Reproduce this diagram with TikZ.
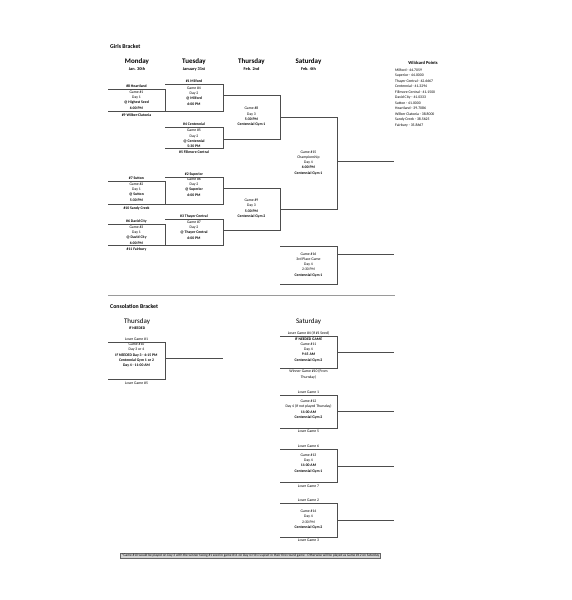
\documentclass[tikz,border=0pt]{standalone}
\usepackage{fontspec}
\setmainfont{Carlito}
\usepackage{xcolor}
\definecolor{lineclr}{HTML}{4d4d4d}
\definecolor{rulegray}{HTML}{9a9a9a}
\definecolor{notebg}{HTML}{d4d4d4}
\usepackage{tikz}
\usetikzlibrary{positioning}

\begin{document}
\begin{tikzpicture}[
  x=1pt, y=-1pt,
  section/.style={font=\fontsize{5.8}{6.5}\selectfont\bfseries, anchor=west, inner sep=0pt},
  dayhead/.style={font=\fontsize{7}{8}\selectfont\bfseries, inner sep=0pt},
  conshead/.style={font=\fontsize{7}{8}\selectfont, inner sep=0pt},
  datehead/.style={font=\fontsize{4.3}{5}\selectfont\bfseries, inner sep=0pt},
  team/.style={font=\fontsize{3.8}{4}\selectfont\bfseries, inner sep=0pt, anchor=base},
  loser/.style={font=\fontsize{3.8}{4}\selectfont, inner sep=0pt, anchor=base},
  info/.style={font=\fontsize{3.8}{5.3}\selectfont, align=center, inner sep=0pt},
  wild/.style={font=\fontsize{3.8}{5.5}\selectfont, align=left, inner sep=0pt, anchor=north west},
  note/.style={font=\fontsize{3.5}{4}\selectfont, draw=black!60, fill=notebg, inner xsep=1pt, inner ysep=0.6pt},
  bline/.style={draw=lineclr, line width=0.6pt},
]
\useasboundingbox (0,0) rectangle (571,600);
\fill[white] (0,0) rectangle (571,600);

% Headings
\node[section] (girls) at (110,46.5) {Girls Bracket};
\node[dayhead] (mon) at (137,61.5) {Monday};
\node[datehead, below=3pt of mon] (mondate) {Jan. 30th};
\node[dayhead] (tue) at (194,61.5) {Tuesday};
\node[datehead, below=3pt of tue] (tuedate) {January 31st};
\node[dayhead] (thu) at (251.5,61.5) {Thursday};
\node[datehead, below=3pt of thu] (thudate) {Feb. 2nd};
\node[dayhead] (sat) at (308.5,61.5) {Saturday};
\node[datehead, below=3pt of sat] (satdate) {Feb. 4th};

% Wildcard points
\node[font=\fontsize{4.5}{5}\selectfont\bfseries, inner sep=0pt] (wildtitle) at (423,63) {Wildcard Points};
\node[wild] (wildlist) at (395,68.5) {Milford - 44.7059\\Superior - 44.0000\\Thayer Central - 42.6667\\Centennial - 41.3294\\Fillmore Central - 41.1500\\David City - 41.0333\\Sutton - 41.0000\\Heartland - 39.7086\\Wilber Clatonia - 38.8000\\Sandy Creek - 38.5625\\Fairbury - 35.8667};

% Monday
\node[team] (s8) at (136.5,87.8) {\#8 Heartland};
\node[info] (g1) at (136.5,100) {Game \#1\\Day 1\\\textbf{@ Highest Seed}\\\textbf{6:00 PM}};
\node[team] (s9) at (136.5,116.2) {\#9 Wilber-Clatonia};
\node[team] (s7) at (136.5,179.8) {\#7 Sutton};
\node[info] (g2) at (136.5,192) {Game \#2\\Day 1\\\textbf{@ Sutton}\\\textbf{5:30 PM}};
\node[team] (s10) at (136.5,209.2) {\#10 Sandy Creek};
\node[team] (s6) at (136.5,222.8) {\#6 David City};
\node[info] (g3) at (136.5,235) {Game \#3\\Day 1\\\textbf{@ David City}\\\textbf{6:00 PM}};
\node[team] (s11) at (136.5,250.2) {\#11 Fairbury};

% Tuesday
\node[team] (s1) at (194,82.8) {\#1 Milford};
\node[info] (g4) at (194,96) {Game \#4\\Day 2\\\textbf{@ Milford}\\\textbf{6:00 PM}};
\node[team] (s4) at (194,125.8) {\#4 Centennial};
\node[info] (g5) at (194,138.5) {Game \#5\\Day 2\\\textbf{@ Centennial}\\\textbf{5:30 PM}};
\node[team] (s5) at (194,153.2) {\#5 Fillmore Central};
\node[team] (s2) at (194,175.6) {\#2 Superior};
\node[info] (g6) at (194,187) {Game \#6\\Day 2\\\textbf{@ Superior}\\\textbf{6:00 PM}};
\node[team] (s3) at (194,217.8) {\#3 Thayer Central};
\node[info] (g7) at (194,230) {Game \#7\\Day 2\\\textbf{@ Thayer Central}\\\textbf{6:00 PM}};

% Thursday / Saturday
\node[info] (g8) at (251.5,116.7) {Game \#8\\Day 3\\\textbf{5:30 PM}\\\textbf{Centennial Gym 1}};
\node[info] (g9) at (251.5,208.5) {Game \#9\\Day 3\\\textbf{5:30 PM}\\\textbf{Centennial Gym 2}};
\node[info] (final) at (308.5,162.7) {Game \#15\\Championship\\Day 4\\\textbf{6:00 PM}\\\textbf{Centennial Gym 1}};
\node[info] (third) at (308.5,264.7) {Game \#16\\3rd Place Game\\Day 4\\2:30 PM\\\textbf{Centennial Gym 1}};

% Girls bracket lines
\draw[bline] (108,89) -- (165,89) -- (165,111);
\draw[bline] (108,111) -- (223,111) -- (223,84) -- (165,84);
\draw[bline] (165,127) -- (223,127) -- (223,148) -- (165,148);
\draw[bline] (223,95) -- (280,95) -- (280,139) -- (223,139);
\draw[bline] (108,181) -- (165,181) -- (165,204);
\draw[bline] (108,204) -- (223,204) -- (223,177) -- (165,177);
\draw[bline] (108,224) -- (165,224) -- (165,245);
\draw[bline] (108,245) -- (223,245) -- (223,219) -- (165,219);
\draw[bline] (223,188) -- (280,188) -- (280,230) -- (223,230);
\draw[bline] (280,117) -- (337,117) -- (337,209) -- (280,209);
\draw[bline] (337,161) -- (394,161);
\draw[bline] (280,246) -- (337,246) -- (337,284) -- (280,284);
\draw[bline] (337,254) -- (394,254);

% Separator
\draw[rulegray, line width=0.6pt] (108,295) -- (395,295);

% Consolation headings
\node[section] (consol) at (110,306) {Consolation Bracket};
\node[conshead] (cthu) at (137,321.5) {Thursday};
\node[font=\fontsize{3.8}{4}\selectfont\bfseries, inner sep=0pt] (ifneeded) at (137,328.3) {IF NEEDED};
\node[conshead] (csat) at (308.5,321.5) {Saturday};

% Consolation Thursday
\node[loser] (l1) at (136.5,340.6) {Loser Game \#1};
\node[info] (g10) at (136.5,355.2) {Game \#10\\Day 3 or 4\\\textbf{IF NEEDED Day 3 - 4:15 PM}\\\textbf{Centennial Gym 1 or 2}\\\textbf{Day 4 - 11:00 AM}};
\node[loser] (l5) at (136.5,384) {Loser Game \#5};
\draw[bline] (108,342) -- (165,342) -- (165,379) -- (108,379);
\draw[bline] (165,358) -- (223,358);

% Consolation Saturday
\node[loser] (l4) at (308.5,334.6) {Loser Game \#4 (If \#1 Seed)};
\node[info] (g11) at (308.5,349.7) {\textbf{IF NEEDED GAME}\\Game \#11\\Day 4\\\textbf{9:15 AM}\\\textbf{Centennial Gym 2}};
\node[info] (w10) at (308.5,374.3) {Winner Game \#10 (From\\Thursday)};
\draw[bline] (280,336) -- (337,336) -- (337,368) -- (280,368);
\draw[bline] (337,352) -- (394,352);

\node[loser] (lg1) at (308.5,393.8) {Loser Game 1};
\node[info] (g12) at (308.5,409.5) {Game \#12\\Day 4 (If not played Thursday)\\\textbf{11:00 AM}\\\textbf{Centennial Gym 2}};
\node[loser] (lg5) at (308.5,432.8) {Loser Game 5};
\draw[bline] (280,395) -- (337,395) -- (337,428) -- (280,428);
\draw[bline] (337,411) -- (394,411);

\node[loser] (lg6) at (308.5,447.6) {Loser Game 6};
\node[info] (g13) at (308.5,463.2) {Game \#13\\Day 4\\\textbf{11:00 AM}\\\textbf{Centennial Gym 1}};
\node[loser] (lg7) at (308.5,487.2) {Loser Game 7};
\draw[bline] (280,449) -- (337,449) -- (337,482) -- (280,482);
\draw[bline] (337,466) -- (394,466);

\node[loser] (lg2) at (308.5,501.6) {Loser Game 2};
\node[info] (g14) at (308.5,519.5) {Game \#14\\Day 4\\2:30 PM\\\textbf{Centennial Gym 2}};
\node[loser] (lg3) at (308.5,541.6) {Loser Game 3};
\draw[bline] (280,503) -- (337,503) -- (337,537) -- (280,537);
\draw[bline] (337,520) -- (394,520);

% Footnote
\node[note] (footnote) at (250.5,555.6) {*Game \#10 would be played on Day 3 with the winner facing \#1 seed in game \#11 on Day 4 if \#1 is upset in their first round game - Otherwise will be played as Game \#12 on Saturday};

\end{tikzpicture}
\end{document}
